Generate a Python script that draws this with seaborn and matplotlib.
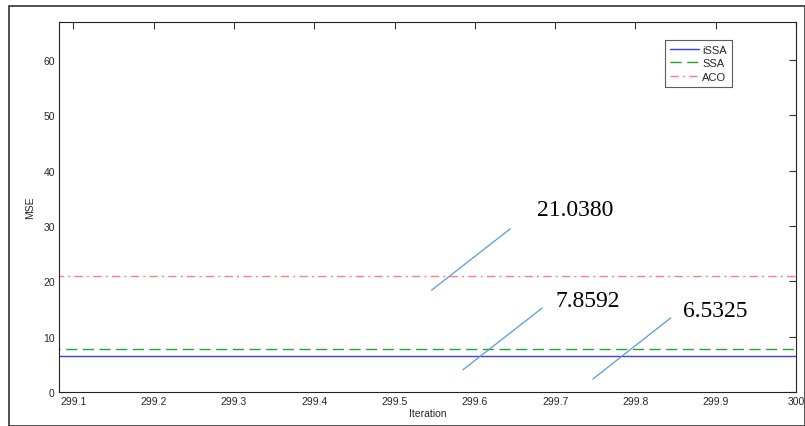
import pandas as pd
import numpy as np
import matplotlib.pyplot as plt
import seaborn as sns
from matplotlib.patches import Rectangle

# MSE at the last iterations (flat, converged)
iterations = [299, 300]
issa_mse = [6.5325, 6.5325]
ssa_mse = [7.8592, 7.8592]
aco_mse = [21.0380, 21.0380]

# Callouts: label, line start, line end, text position
callout_labels = ['21.0380', '7.8592', '6.5325']
callout_start = [(299.546, 18.4), (299.585, 4.0), (299.747, 2.35)]
callout_end = [(299.644, 29.5), (299.684, 15.2), (299.844, 13.4)]
callout_text = [(299.677, 33.0), (299.700, 16.5), (299.859, 14.7)]

sns.set_style('white')
plt.rcParams['font.family'] = ['Liberation Sans', 'DejaVu Sans']

fig = plt.figure(figsize=(8.05, 4.27), dpi=100)
ax = fig.add_axes([59 / 805, 1 - 393 / 427, (796 - 59) / 805, (393 - 23) / 427])

sns.lineplot(x=iterations, y=issa_mse, ax=ax, color='#3b3bff', lw=1.0, label='iSSA')
sns.lineplot(x=iterations, y=ssa_mse, ax=ax, color='#2ca02c', lw=1.0, label='SSA',
             linestyle=(0, (8, 4)))
sns.lineplot(x=iterations, y=aco_mse, ax=ax, color='#ff7f7f', lw=1.0, label='ACO',
             linestyle=(0, (6, 3, 1.5, 3)))

for lab, s, e, t in zip(callout_labels, callout_start, callout_end, callout_text):
    ax.plot([s[0], e[0]], [s[1], e[1]], color='#5b9bd5', lw=0.9)
    ax.text(t[0], t[1], lab, family='Liberation Serif', fontsize=17,
            ha='left', va='center', color='black')

ax.set_xlim(299.082, 300)
ax.set_ylim(0, 66.9)
ax.set_xticks([299.1, 299.2, 299.3, 299.4, 299.5, 299.6, 299.7, 299.8, 299.9, 300])
ax.set_xticklabels(['299.1', '299.2', '299.3', '299.4', '299.5', '299.6', '299.7',
                    '299.8', '299.9', '300'])
ax.set_yticks([0, 10, 20, 30, 40, 50, 60])
ax.tick_params(direction='in', top=True, right=True, length=5, width=0.8,
               labelsize=7.5, color='#333333', pad=3)
for sp in ax.spines.values():
    sp.set_color('#222222')
    sp.set_linewidth(0.8)

ax.set_xlabel('Iteration', fontsize=7.5, labelpad=1)
ax.set_ylabel('MSE', fontsize=7.5, labelpad=6)

leg = ax.legend(loc='upper right', bbox_to_anchor=(1 - 64 / 737, 1 - 18 / 370),
                fontsize=8, frameon=True, fancybox=False, handlelength=2.6,
                borderpad=0.45, labelspacing=0.3, handletextpad=0.3, borderaxespad=0)
leg.get_frame().set_edgecolor('#333333')
leg.get_frame().set_linewidth(0.8)

# outer frame around the figure
fig.patches.append(Rectangle((9 / 805, 0), 1 - 9 / 805, 1 - 7 / 427, transform=fig.transFigure,
                             fill=False, edgecolor='#333333', lw=1.2))

fig.savefig('out.png', dpi=100)
